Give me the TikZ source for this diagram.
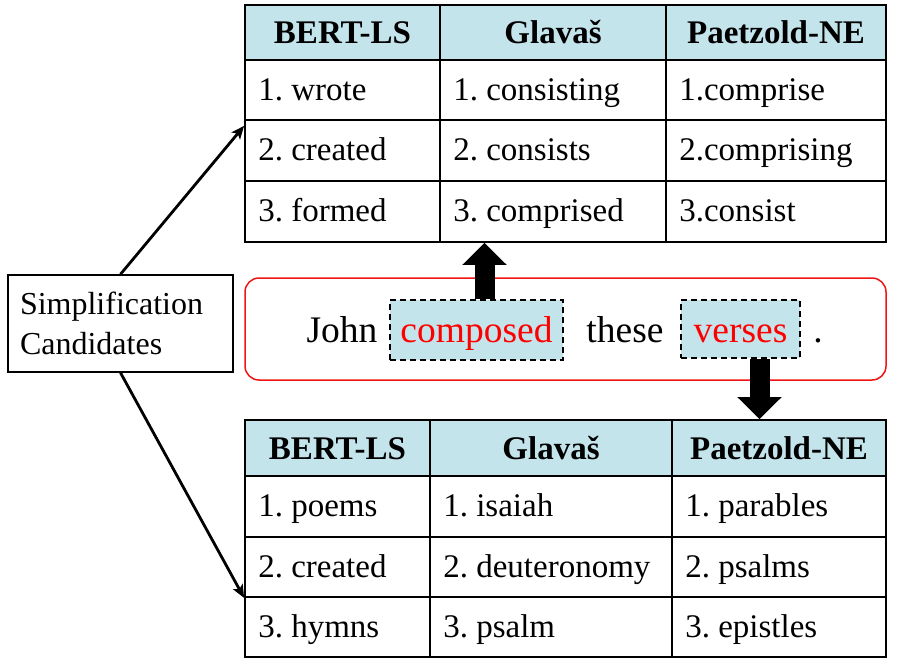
\documentclass[tikz,border=0pt]{standalone}
\usepackage{fontspec}
\setmainfont{Liberation Serif}
\usetikzlibrary{arrows.meta,calc}
\definecolor{hdr}{RGB}{196,228,236}
\definecolor{redln}{RGB}{240,20,20}
\tikzset{
 cell/.style={draw, line width=1.8pt, inner sep=0pt},
 hcell/.style={cell, fill=hdr},
 lbl/.style={inner sep=0pt, anchor=base west, font=\fontsize{33}{38}\selectfont},
 hlbl/.style={inner sep=0pt, anchor=base, font=\bfseries\fontsize{33}{38}\selectfont},
 word/.style={inner sep=0pt, anchor=base, font=\fontsize{37.5}{44}\selectfont},
 wordbox/.style={draw, dash pattern=on 6pt off 4pt, line width=1.5pt, fill=hdr, inner sep=0pt},
 blockarrow/.style={line width=20pt, -{Triangle[width=43pt,length=22pt]}},
 thinarrow/.style={line width=2.8pt, -{Stealth[length=13pt,width=11pt,inset=3pt]}},
}
\newcommand\bodytxt[2]{\node[lbl] (#1t) at ([xshift=14pt,yshift=-10pt]#1.west) {#2};}
\newcommand\headtxt[2]{\node[hlbl] (#1t) at ([yshift=-11pt]#1.center) {#2};}
\begin{document}
\frenchspacing
\begin{tikzpicture}[x=1pt,y=-1pt]
\useasboundingbox (0,0) rectangle (906,664);
% top table
\node[hcell, minimum width=195, minimum height=55] (t01) at (342.5,32.5) {};
\node[hcell, minimum width=226, minimum height=55] (t02) at (553,32.5) {};
\node[hcell, minimum width=220, minimum height=55] (t03) at (776,32.5) {};
\node[cell, minimum width=195, minimum height=60] (t11) at (342.5,90) {};
\node[cell, minimum width=226, minimum height=60] (t12) at (553,90) {};
\node[cell, minimum width=220, minimum height=60] (t13) at (776,90) {};
\node[cell, minimum width=195, minimum height=61] (t21) at (342.5,150.5) {};
\node[cell, minimum width=226, minimum height=61] (t22) at (553,150.5) {};
\node[cell, minimum width=220, minimum height=61] (t23) at (776,150.5) {};
\node[cell, minimum width=195, minimum height=61] (t31) at (342.5,211.5) {};
\node[cell, minimum width=226, minimum height=61] (t32) at (553,211.5) {};
\node[cell, minimum width=220, minimum height=61] (t33) at (776,211.5) {};
\headtxt{t01}{BERT-LS}
\headtxt{t02}{Glava\v{s}}
\headtxt{t03}{Paetzold-NE}
\bodytxt{t11}{1. wrote}
\bodytxt{t12}{1. consisting}
\bodytxt{t13}{1.comprise}
\bodytxt{t21}{2. created}
\bodytxt{t22}{2. consists}
\bodytxt{t23}{2.comprising}
\bodytxt{t31}{3. formed}
\bodytxt{t32}{3. comprised}
\bodytxt{t33}{3.consist}
% bottom table
\node[hcell, minimum width=185, minimum height=56] (b01) at (337.5,448) {};
\node[hcell, minimum width=242, minimum height=56] (b02) at (551,448) {};
\node[hcell, minimum width=214, minimum height=56] (b03) at (779,448) {};
\node[cell, minimum width=185, minimum height=61] (b11) at (337.5,506.5) {};
\node[cell, minimum width=242, minimum height=61] (b12) at (551,506.5) {};
\node[cell, minimum width=214, minimum height=61] (b13) at (779,506.5) {};
\node[cell, minimum width=185, minimum height=60] (b21) at (337.5,567) {};
\node[cell, minimum width=242, minimum height=60] (b22) at (551,567) {};
\node[cell, minimum width=214, minimum height=60] (b23) at (779,567) {};
\node[cell, minimum width=185, minimum height=60] (b31) at (337.5,627) {};
\node[cell, minimum width=242, minimum height=60] (b32) at (551,627) {};
\node[cell, minimum width=214, minimum height=60] (b33) at (779,627) {};
\headtxt{b01}{BERT-LS}
\headtxt{b02}{Glava\v{s}}
\headtxt{b03}{Paetzold-NE}
\bodytxt{b11}{1. poems}
\bodytxt{b12}{1. isaiah}
\bodytxt{b13}{1. parables}
\bodytxt{b21}{2. created}
\bodytxt{b22}{2. deuteronomy}
\bodytxt{b23}{2. psalms}
\bodytxt{b31}{3. hymns}
\bodytxt{b32}{3. psalm}
\bodytxt{b33}{3. epistles}
% sentence
\node[draw=redln, rounded corners=14pt, line width=1.5pt, minimum width=641, minimum height=102, inner sep=0pt] (sent) at (565.5,329) {};
\node[wordbox, minimum width=173, minimum height=60] (cw) at (476.5,330) {};
\node[wordbox, minimum width=119, minimum height=58] (vw) at (740.5,329) {};
\node[word] (john) at (342,342) {John};
\node[word, text=red] (cwt) at (476.5,342) {composed};
\node[word] (these) at (625,342) {these};
\node[word, text=red] (vwt) at (740.5,342) {verses};
\node[word] (dot) at (818,342) {.};
% block arrows
\coordinate (u1) at ($(cw.north)+(8,0)$);
\coordinate (u2) at (u1 |- t32.south);
\coordinate (d1) at ($(vw.south)+(19,0)$);
\coordinate (d2) at (d1 |- b03.north);
\draw[blockarrow] (u1) -- (u2);
\draw[blockarrow] (d1) -- (d2);
% left box
\node[draw, line width=1.5pt, inner xsep=12pt, minimum height=97, text width=201, align=left, font=\fontsize{32}{40}\selectfont] (sc) at (120.5,323.5) {Simplification\\Candidates};
\draw[thinarrow] (sc.north) -- ([yshift=-5pt]t11.south west);
\draw[thinarrow] (sc.south) -- (b21.south west);
\end{tikzpicture}
\end{document}
